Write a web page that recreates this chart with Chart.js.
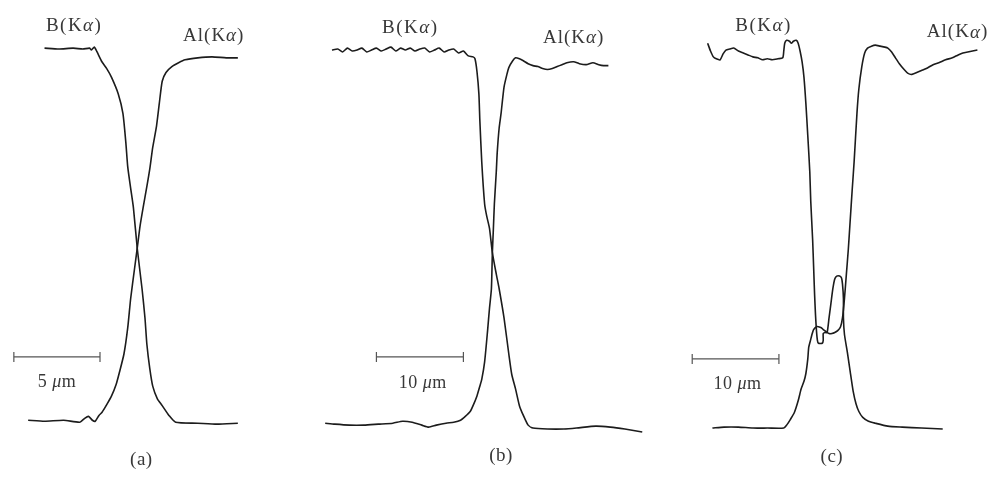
<!DOCTYPE html>
<html>
<head>
<meta charset="utf-8">
<script src="https://cdn.jsdelivr.net/npm/chart.js@4"></script>
<style>
html, body { margin: 0; padding: 0; background: #fff; overflow: hidden; }
#wrap { position: relative; width: 999px; height: 482px; }
canvas { position: absolute; top: 0; }
</style>
</head>
<body>
<div id="wrap">
  <canvas id="panelA" width="290" height="482" style="left:0px"></canvas>
  <canvas id="panelB" width="370" height="482" style="left:290px"></canvas>
  <canvas id="panelC" width="339" height="482" style="left:660px"></canvas>
</div>
<script>
// x = distance along the scan (µm), y = signal (% of plateau)

// (a)
const aBoronX = [1.78, 2.61, 3.44, 4.0, 4.39, 4.5, 4.67, 4.83, 5.11, 5.39, 5.67, 6.06, 6.33, 6.5, 6.61, 6.78, 6.94, 7.17, 7.44, 7.61, 7.72, 7.89, 8.06, 8.33, 8.61, 9.0, 9.39, 10.67, 11.78, 13.0];
const aBoronY = [99.25, 99, 99.25, 99, 99.25, 98.75, 99.5, 98.25, 95.75, 94, 91.75, 87.5, 82.5, 75, 68.75, 63.25, 58.25, 47.5, 37.5, 30, 23.25, 17, 12.5, 9.25, 7.5, 5, 3.25, 3, 2.75, 3];
const aAlX = [0.83, 1.78, 2.89, 3.83, 4.11, 4.33, 4.56, 4.72, 4.94, 5.11, 5.39, 5.67, 5.94, 6.11, 6.39, 6.61, 6.78, 7.0, 7.17, 7.33, 7.5, 7.72, 7.89, 8.06, 8.28, 8.44, 8.61, 8.83, 9.17, 9.56, 9.94, 10.67, 11.5, 12.33, 13.0];
const aAlY = [3.75, 3.5, 3.75, 3.25, 4.25, 4.75, 3.75, 3.5, 5, 5.75, 7.75, 10, 13, 15.75, 20.75, 27.5, 35, 42.5, 48.25, 53.75, 58.25, 63.75, 68.25, 73.75, 79.25, 85, 90.75, 93, 94.5, 95.5, 96.25, 96.75, 97, 96.75, 96.75];

// (b)
const bBoronX = [-5.11, -4.44, -3.89, -3.33, -2.78, -2.22, -1.67, -1.11, -0.56, 0, 0.56, 1.11, 1.67, 2.22, 2.78, 3.33, 3.89, 4.44, 5.0, 5.56, 6.11, 6.67, 7.22, 7.78, 8.33, 8.89, 9.44, 10.0, 10.56, 11.11, 11.33, 11.56, 11.78, 11.89, 12.11, 12.44, 12.67, 13.0, 13.33, 13.78, 14.11, 14.67, 15.22, 15.56, 16.0, 16.44, 16.89, 17.44, 18.0, 19.67, 21.56, 23.0, 25.22, 26.89, 28.56, 30.56];
const bBoronY = [98.75, 99, 98.25, 99.25, 98.5, 98.75, 99.25, 98.25, 98.75, 99.25, 98.5, 99, 99.5, 98.5, 99.25, 98.75, 99.25, 98.5, 99, 99.25, 98.25, 98.75, 99.25, 98.25, 98.75, 99, 98, 98.5, 97.25, 97, 96.5, 93.25, 87.5, 80.75, 70, 59.25, 56.25, 53, 46.75, 41.25, 37.5, 30, 20.75, 15.5, 11.75, 7.5, 5, 2.5, 1.75, 1.5, 1.5, 1.75, 2.25, 2, 1.5, 0.75];
const bAlX = [-5.89, -4.78, -3.11, -1.44, 0.22, 1.89, 3.0, 4.11, 5.22, 6.0, 6.89, 8.0, 8.89, 9.67, 10.22, 10.78, 11.11, 11.56, 11.89, 12.11, 12.44, 12.78, 13.0, 13.22, 13.33, 13.44, 13.56, 13.78, 13.89, 14.11, 14.33, 14.67, 15.0, 15.22, 15.67, 16.0, 16.44, 16.89, 17.44, 18.0, 18.56, 19.11, 19.67, 20.22, 20.78, 21.33, 21.89, 22.67, 23.33, 24.11, 24.89, 25.56, 26.11, 26.67];
const bAlY = [3, 2.75, 2.5, 2.5, 2.75, 3, 3.5, 3.25, 2.5, 2, 2.5, 3, 3.25, 3.75, 4.75, 6, 7.5, 10, 12.5, 14.25, 18.75, 26.75, 32.5, 37.5, 46.75, 52.5, 59.25, 67.5, 72.5, 78.75, 82.5, 89.25, 92.5, 94.25, 96, 96.75, 96.5, 96, 95.25, 94.75, 94.5, 94, 93.75, 94, 94.5, 95, 95.5, 95.75, 95.25, 95, 95.5, 95, 94.75, 94.75];

// (c)
const cBoronX = [1.78, 2.11, 2.44, 2.78, 3.22, 3.56, 3.89, 4.33, 4.78, 5.33, 5.89, 6.44, 7.0, 7.56, 8.11, 8.67, 9.22, 9.89, 10.44, 10.56, 10.67, 10.89, 11.22, 11.44, 11.67, 12.0, 12.22, 12.44, 12.67, 12.89, 13.11, 13.33, 13.56, 13.67, 13.89, 14.0, 14.11, 14.22, 14.33, 14.44, 14.56, 15.0, 15.11, 15.11, 15.33, 15.56, 15.78, 16.0, 16.22, 16.44, 16.67, 17.0, 17.22, 17.33, 17.44, 17.44, 17.56, 17.89, 18.22, 18.56, 18.89, 19.22, 19.67, 20.33, 21.11, 22.56, 24.22, 26.44, 28.89];
const cBoronY = [100.5, 98.5, 97, 96.5, 96.25, 97.75, 98.75, 99, 99.25, 98.5, 98, 97.5, 97, 96.75, 96.25, 96.5, 96.25, 96.5, 96.75, 98.5, 100.5, 101.25, 101, 100.5, 101, 101.25, 100.5, 98.5, 95.75, 91.75, 85, 76.75, 67.5, 60, 50, 43.25, 36.25, 30.75, 26.75, 24.25, 23.5, 23.5, 24.25, 26, 26.25, 26.25, 30, 33.75, 37.5, 40, 40.75, 40.75, 40.25, 38.75, 35, 30, 25.75, 21.25, 16.25, 11.25, 8, 6, 4.5, 3.5, 3, 2.25, 2, 1.75, 1.5];
const cAlX = [2.33, 3.67, 5.33, 7.0, 8.67, 10.56, 10.89, 11.33, 11.78, 12.22, 12.56, 12.89, 13.11, 13.33, 13.44, 13.67, 13.78, 14.0, 14.33, 14.56, 14.89, 15.11, 15.44, 15.78, 16.11, 16.44, 16.78, 17.11, 17.33, 17.56, 17.78, 18.0, 18.22, 18.44, 18.67, 19.0, 19.22, 19.56, 19.89, 20.22, 20.67, 21.11, 21.67, 22.22, 22.56, 23.0, 23.44, 23.89, 24.44, 24.89, 25.33, 25.89, 26.44, 27.0, 27.78, 28.44, 29.22, 30.0, 30.67, 31.22, 31.78, 32.33, 32.89];
const cAlY = [1.75, 2, 2, 1.75, 1.75, 1.75, 2.5, 4, 5.75, 8.75, 11.75, 13.75, 15.75, 19.5, 22.5, 24.5, 25.5, 27, 27.75, 27.75, 27.5, 27, 26.5, 26, 26, 26.25, 26.75, 27.75, 30, 35, 41.25, 47.5, 55, 62.5, 70, 82.5, 88.75, 94.5, 98, 99.25, 99.75, 100, 99.75, 99.5, 99.25, 98.25, 96.75, 95.25, 93.75, 92.75, 92.5, 93, 93.5, 94, 95, 95.5, 96.25, 96.75, 97.5, 98, 98.25, 98.5, 98.75];

// scale bars (µm)
const aBar = [0, 5];
const bBar = [0, 10];
const cBar = [0, 10];

const INK = '#1c1c1c';

function pts(xs, ys) {
  return xs.map((x, i) => ({ x: x, y: ys[i] }));
}

// draws text centred on (cx, cy), greek letters in italic
function drawRich(ctx, text, cx, cy, size) {
  const parts = text.split(/([αμ])/).filter(s => s.length);
  const fonts = parts.map(p => (/[αμ]/.test(p) ? 'italic ' : '') + size + 'px "Liberation Serif"');
  const widths = parts.map((p, i) => { ctx.font = fonts[i]; return ctx.measureText(p).width; });
  let x = cx - widths.reduce((a, b) => a + b, 0) / 2;
  parts.forEach((p, i) => {
    ctx.font = fonts[i];
    ctx.fillText(p, x, cy);
    x += widths[i];
  });
}

const labelPlugin = {
  id: 'labels',
  afterDatasetsDraw(chart, args, opts) {
    const ctx = chart.ctx;
    ctx.save();
    ctx.fillStyle = '#383838';
    ctx.textAlign = 'left';
    ctx.textBaseline = 'middle';
    opts.items.forEach(it => {
      ctx.letterSpacing = (it.spacing || 0) + 'px';
      drawRich(ctx, it.text, chart.scales.x.getPixelForValue(it.x), chart.scales.y.getPixelForValue(it.y), it.size);
    });
    ctx.restore();
  }
};

function makePanel(id, xMin, xMax, series, bar, barY, labels) {
  const datasets = series.map(s => ({
    data: s,
    showLine: true,
    borderColor: INK,
    borderWidth: 1.6,
    pointRadius: 0,
    tension: 0.2
  }));
  datasets.push({
    data: bar.map(v => ({ x: v, y: barY })),
    showLine: true,
    borderColor: '#555',
    borderWidth: 1.2,
    pointStyle: 'line',
    pointRotation: 90,
    pointRadius: 5,
    pointBorderColor: '#555',
    pointBorderWidth: 1.2
  });
  new Chart(document.getElementById(id), {
    type: 'scatter',
    data: { datasets: datasets },
    options: {
      responsive: false,
      animation: false,
      layout: { padding: 0 },
      plugins: {
        legend: { display: false },
        tooltip: { enabled: false },
        labels: { items: labels }
      },
      scales: {
        x: { type: 'linear', display: false, min: xMin, max: xMax },
        y: { type: 'linear', display: false, min: -10.5, max: 110 }
      }
    },
    plugins: [labelPlugin]
  });
}

makePanel('panelA', -0.444, 15.667, [pts(aBoronX, aBoronY), pts(aAlX, aAlY)], aBar, 20, [
  { text: 'B(Kα)', x: 3.5, y: 105, size: 19, spacing: 1.5 },
  { text: 'Al(Kα)', x: 11.6, y: 102.25, size: 19, spacing: 1 },
  { text: '5 μm', x: 2.5, y: 13.5, size: 18, spacing: 0.5 },
  { text: '(a)', x: 7.4, y: -6.5, size: 19, spacing: 0.5 }
]);

makePanel('panelB', -9.222, 31.889, [pts(bBoronX, bBoronY), pts(bAlX, bAlY)], bBar, 20, [
  { text: 'B(Kα)', x: 3.9, y: 104.5, size: 19, spacing: 1.5 },
  { text: 'Al(Kα)', x: 22.67, y: 101.75, size: 19, spacing: 1 },
  { text: '10 μm', x: 5.33, y: 13.25, size: 18, spacing: 0.5 },
  { text: '(b)', x: 14.33, y: -5.5, size: 19, spacing: 0.5 }
]);

makePanel('panelC', -3, 34.667, [pts(cBoronX, cBoronY), pts(cAlX, cAlY)], cBar, 19.5, [
  { text: 'B(Kα)', x: 8.22, y: 105, size: 19, spacing: 1.5 },
  { text: 'Al(Kα)', x: 30.6, y: 103.25, size: 19, spacing: 1 },
  { text: '10 μm', x: 5.22, y: 13, size: 18, spacing: 0.5 },
  { text: '(c)', x: 16.11, y: -5.75, size: 19, spacing: 0.5 }
]);
</script>
</body>
</html>
